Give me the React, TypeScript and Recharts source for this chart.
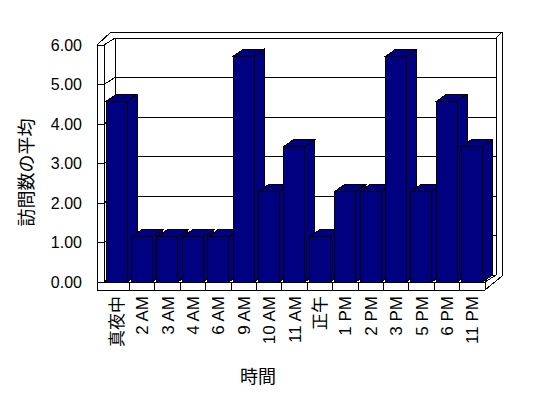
import { BarChart, Bar, XAxis, YAxis, CartesianGrid, ReferenceArea, Label } from "recharts";

const hours = [
  "真夜中", "2 AM", "3 AM", "4 AM", "6 AM", "9 AM", "10 AM", "11 AM",
  "正午", "1 PM", "2 PM", "3 PM", "5 PM", "6 PM", "11 PM",
];
const avgVisits = [4.57, 1.14, 1.14, 1.14, 1.14, 5.71, 2.29, 3.43, 1.14, 2.29, 2.29, 5.71, 2.29, 4.57, 3.43];
const valueTicks = [0, 1, 2, 3, 4, 5, 6];

const data = hours.map((hour, i) => ({ hour, visits: avgVisits[i] }));

const NAVY = "#000080";
const FONT = '"Liberation Sans", Arial, "Noto Sans CJK JP", sans-serif';
const WALL_DX = 11;
const WALL_DY = 7;
const BAR_DX = 10;
const BAR_DY = 7;
const FLOOR_T = 8;
const WALL_T = 7;

function Bar3D(props: any) {
  const { x, y, width, height } = props;
  if (height == null || height <= 0) return null;
  const r = x + width;
  return (
    <g shapeRendering="crispEdges" stroke="#000" strokeWidth={1} fill={NAVY}>
      <polygon points={`${r},${y} ${r + BAR_DX},${y - BAR_DY} ${r + BAR_DX},${y + height - BAR_DY} ${r},${y + height}`} />
      <polygon points={`${x},${y} ${x + BAR_DX},${y - BAR_DY} ${r + BAR_DX},${y - BAR_DY} ${r},${y}`} />
      <rect x={x} y={y} width={width} height={height} />
    </g>
  );
}

// gridline runs across left wall face, up the side wall and along the back wall
function WallGridLine(props: any) {
  const { x1, y1, x2 } = props;
  return (
    <polyline
      key={`grid-${y1}`}
      points={`${x1 - WALL_T},${y1} ${x1},${y1} ${x1 + WALL_DX},${y1 - WALL_DY} ${x2 + WALL_DX},${y1 - WALL_DY}`}
      fill="none"
      stroke="#000"
      strokeWidth={1}
      shapeRendering="crispEdges"
    />
  );
}

function Frame(props: any) {
  const { x, y, width, height } = props;
  const L = x;
  const R = x + width;
  const T = y;
  const B = y + height;
  const n = hours.length;
  const outer = [
    [L - WALL_T, T],
    [L - WALL_T + 14, T - 13],
    [R + WALL_DX + 6, T - 13],
    [R + WALL_DX + 6, B + FLOOR_T - 14],
    [R, B + FLOOR_T],
    [L - WALL_T, B + FLOOR_T],
  ]
    .map((p) => p.join(","))
    .join(" ");
  const lines: [number, number, number, number][] = [
    [L, T, L, B],
    [L, B, R, B],
    [R, B, R, B + FLOOR_T],
    [R, B, R + WALL_DX, B - WALL_DY],
    [L + WALL_DX, T - WALL_DY, L + WALL_DX, B - WALL_DY],
    [R + WALL_DX, T - WALL_DY, R + WALL_DX, B - WALL_DY],
    [R + WALL_DX, T - WALL_DY, R + WALL_DX + 6, T - 13],
  ];
  for (let k = 1; k < n; k++) {
    const cx = L + (k * width) / n;
    lines.push([cx, B, cx, B + FLOOR_T]);
  }
  return (
    <g shapeRendering="crispEdges" stroke="#000" strokeWidth={1}>
      <polygon points={outer} fill="#fff" />
      {lines.map(([a, b, c, d], i) => (
        <line key={i} x1={a} y1={b} x2={c} y2={d} />
      ))}
    </g>
  );
}

function HourTick(props: any) {
  const { x, y, payload } = props;
  return (
    <text
      x={x}
      y={y}
      transform={`rotate(-90, ${x}, ${y})`}
      textAnchor="end"
      dy="0.36em"
      fontSize={17}
      fontFamily={FONT}
      fill="#000"
    >
      {payload.value}
    </text>
  );
}

export default function App() {
  return (
    <div style={{ position: "absolute", left: 0, top: 0, background: "#fff" }}>
      <BarChart
        width={548}
        height={398}
        data={data}
        margin={{ top: 45, right: 63, left: 0, bottom: 0 }}
        barSize={21}
      >
        <ReferenceArea y1={0} y2={6} shape={Frame} zIndex={-200} ifOverflow="visible" />
        <CartesianGrid vertical={false} horizontal={WallGridLine} />
        <XAxis
          dataKey="hour"
          interval={0}
          height={116}
          axisLine={false}
          tickLine={false}
          tickSize={0}
          tickMargin={14}
          tick={HourTick}
        >
          <Label
            content={(p: any) => (
              <text
                x={258}
                y={p.viewBox.y + 95}
                textAnchor="middle"
                dominantBaseline="central"
                fontSize={18}
                fontFamily={FONT}
                fill="#000"
              >
                時間
              </text>
            )}
          />
        </XAxis>
        <YAxis
          type="number"
          domain={[0, 6]}
          ticks={valueTicks}
          width={104}
          axisLine={false}
          tickLine={false}
          tickSize={0}
          tickMargin={22}
          tickFormatter={(v: number) => v.toFixed(2)}
          tick={{ fontSize: 16, fill: "#000", fontFamily: FONT }}
        >
          <Label
            content={(p: any) => {
              const cx = p.viewBox.x + 27;
              const cy = p.viewBox.y + p.viewBox.height / 2 + 9;
              return (
                <text
                  x={cx}
                  y={cy}
                  transform={`rotate(-90, ${cx}, ${cy})`}
                  textAnchor="middle"
                  dominantBaseline="central"
                  fontSize={18}
                  fontFamily={FONT}
                  fill="#000"
                >
                  訪問数の平均
                </text>
              );
            }}
          />
        </YAxis>
        <Bar dataKey="visits" shape={Bar3D} isAnimationActive={false} />
      </BarChart>
    </div>
  );
}
